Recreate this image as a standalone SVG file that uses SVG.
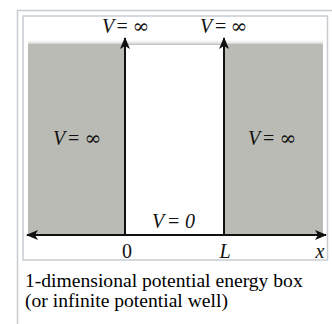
<svg xmlns="http://www.w3.org/2000/svg" width="332" height="324" viewBox="0 0 332 324">
<style>
.lbl{font-family:"Liberation Serif","Times New Roman",serif;font-size:20px;fill:#111}
.it{font-style:italic}
.inf{font-family:"DejaVu Serif","Liberation Serif",serif;font-size:20px}
.cap{font-family:"Liberation Serif","Times New Roman",serif;font-size:19.6px;fill:#000}
.ln{stroke:#111;stroke-width:2;fill:none}
</style>
<defs>
<marker id="ah" viewBox="0 0 12 10" refX="11" refY="5" markerWidth="12" markerHeight="10" markerUnits="userSpaceOnUse" orient="auto-start-reverse">
<path d="M0,0 L12,5 L0,10 L3,5 Z" fill="#111"/>
</marker>
<linearGradient id="band" x1="0" y1="0" x2="0" y2="1">
<stop offset="0" stop-color="#ffffff" stop-opacity="0"/>
<stop offset="1" stop-color="#a8aaa4" stop-opacity="0.8"/>
</linearGradient>
</defs>
<rect x="0" y="0" width="332" height="324" fill="#ffffff"/>
<path d="M17.5,324 V10.5 H332" fill="none" stroke="#c8ccd1" stroke-width="1.5"/>
<rect x="23" y="16" width="304.5" height="244" fill="#ffffff" stroke="#c8ccd1" stroke-width="1.5"/>
<g id="walls">
<rect x="28" y="39" width="295" height="6" fill="url(#band)"/>
<rect id="leftWall" x="28" y="44" width="97" height="191" fill="#b9bbb4"/>
<rect id="rightWall" x="224" y="44" width="99" height="191" fill="#b9bbb4"/>
</g>
<g id="connectors">
<line class="ln" x1="125" y1="235" x2="125" y2="38" marker-end="url(#ah)"/>
<line class="ln" x1="224" y1="235" x2="224" y2="38" marker-end="url(#ah)"/>
<line class="ln" x1="27" y1="235" x2="326" y2="235" marker-start="url(#ah)" marker-end="url(#ah)"/>
</g>
<g id="topLeftLabel">
<text class="lbl" y="33"><tspan class="it" x="102">V</tspan><tspan x="116.5">=</tspan><tspan class="inf" x="132.5">∞</tspan></text>
</g>
<g id="topRightLabel">
<text class="lbl" y="33"><tspan class="it" x="200">V</tspan><tspan x="215">=</tspan><tspan class="inf" x="230.5">∞</tspan></text>
</g>
<g id="leftWallLabel">
<text class="lbl" y="145"><tspan class="it" x="53">V</tspan><tspan x="68">=</tspan><tspan class="inf" x="84.5">∞</tspan></text>
</g>
<g id="rightWallLabel">
<text class="lbl" y="145"><tspan class="it" x="248">V</tspan><tspan x="263">=</tspan><tspan class="inf" x="279.5">∞</tspan></text>
</g>
<g id="wellLabel">
<text class="lbl" y="228"><tspan class="it" x="152">V</tspan><tspan x="168">=</tspan><tspan class="it" x="185">0</tspan></text>
</g>
<g id="axisLabels">
<text class="lbl" x="127" y="258" text-anchor="middle">0</text>
<text class="lbl it" x="225" y="258" text-anchor="middle">L</text>
<text class="lbl it" x="320" y="258" text-anchor="middle">x</text>
</g>
<g id="caption">
<text class="cap" x="25" y="287">1-dimensional potential energy box</text>
<text class="cap" x="25" y="307">(or infinite potential well)</text>
</g>
</svg>
